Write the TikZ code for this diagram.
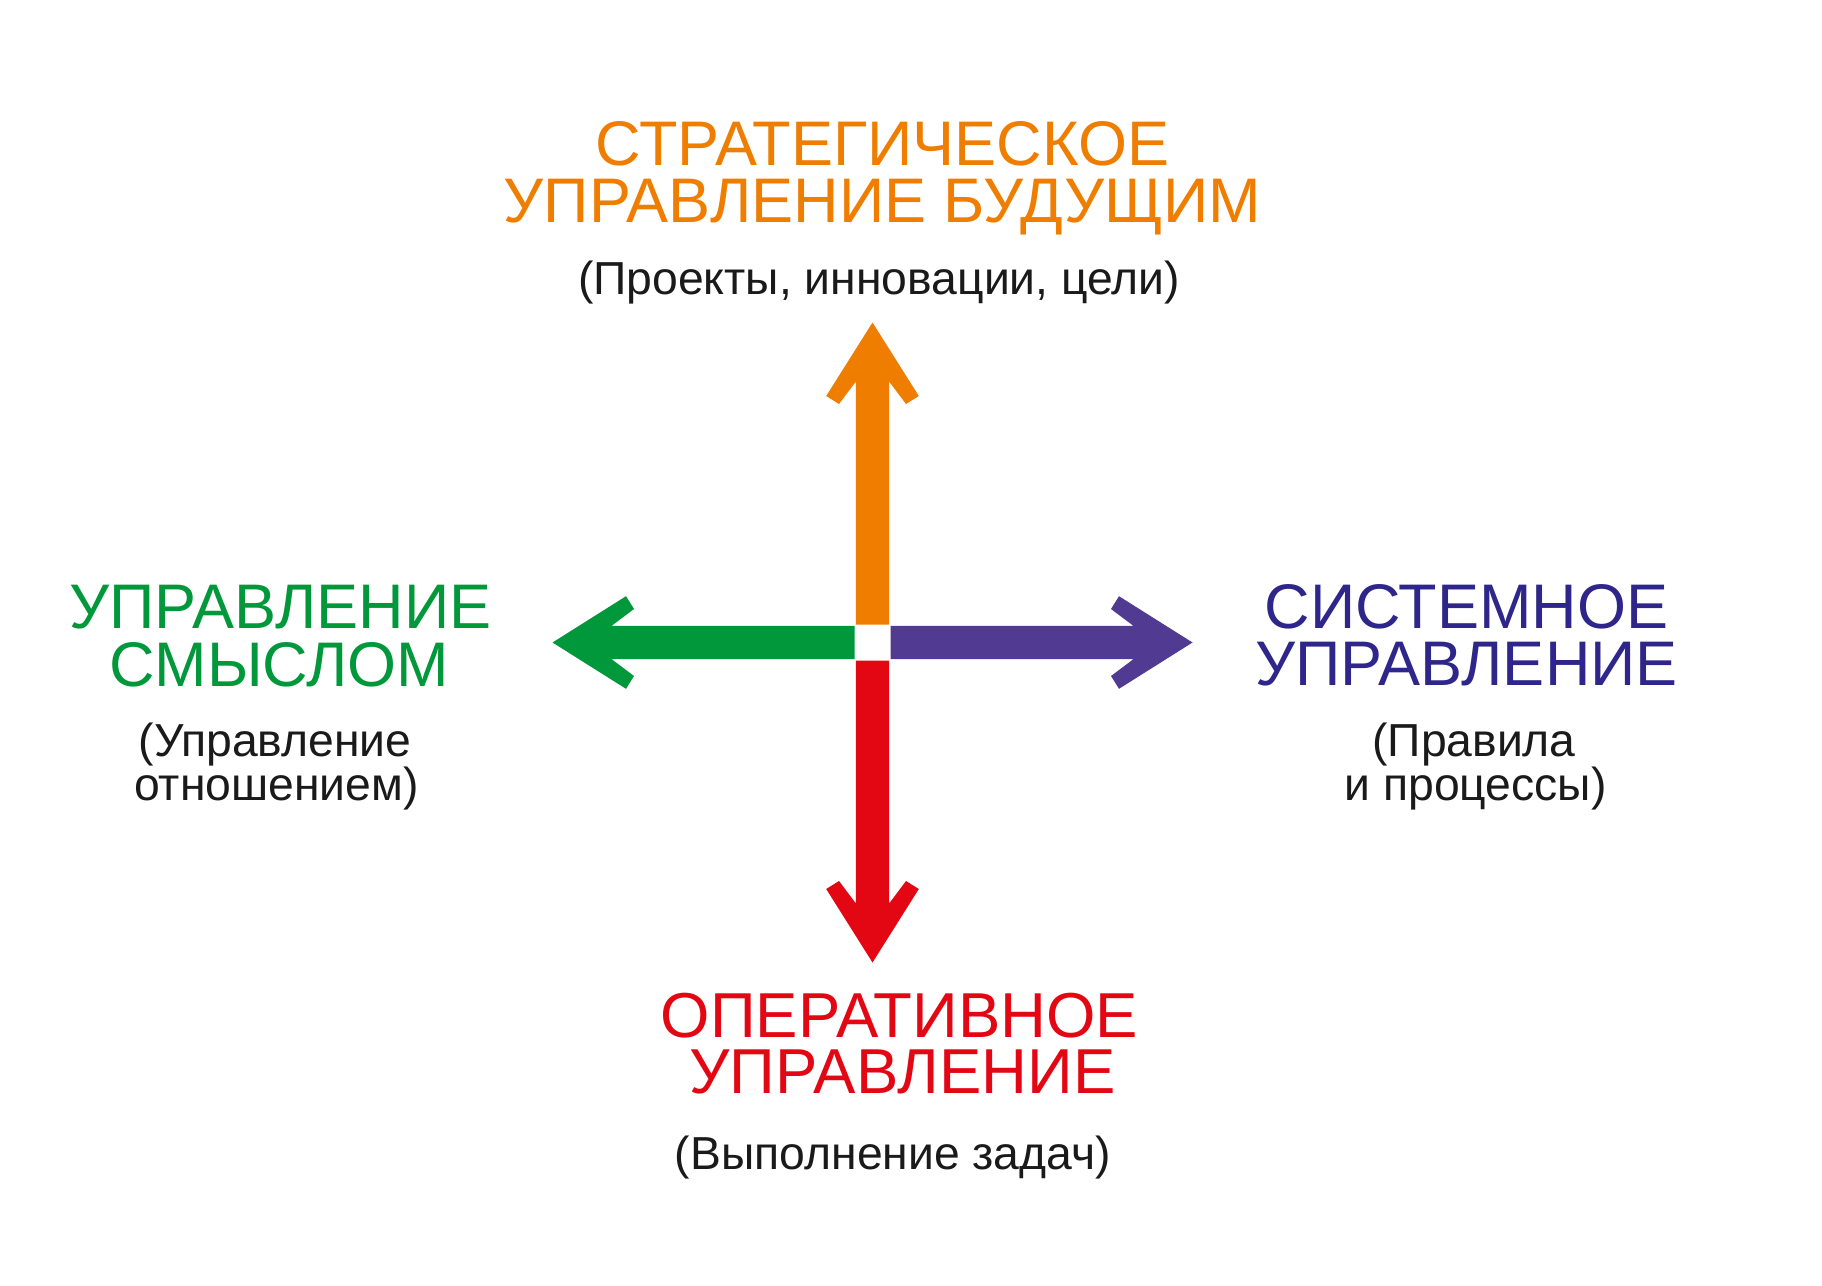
\documentclass[tikz,border=0pt]{standalone}
\usepackage{fontspec}
\setmainfont{Liberation Sans}
\definecolor{corange}{RGB}{238,125,0}
\definecolor{cgreen}{RGB}{0,152,58}
\definecolor{cpurple}{RGB}{81,58,145}
\definecolor{cpurpletext}{RGB}{46,38,138}
\definecolor{cred}{RGB}{227,6,19}
\definecolor{ctext}{RGB}{26,26,26}
\newcommand\mybigarrow[2]{%
  \fill[#1, shift={(c)}, rotate=#2]
    (18,-16.6) -- (261,-16.6) -- (238.5,-33.5) -- (246.5,-46.3) -- (320,0)
    -- (246.5,46.3) -- (238.5,33.5) -- (261,16.6) -- (18,16.6) -- cycle;}
\begin{document}
\begin{tikzpicture}[x=1pt,y=-1pt,
  lbl/.style={anchor=base, inner sep=0pt, outer sep=0pt},
  bigT/.style={lbl, font=\fontsize{63}{70}\selectfont, text height=0.72em, text depth=0.08em},
  subT/.style={lbl, text=ctext, font=\fontsize{46.3}{52}\selectfont, text height=0.72em, text depth=0.2em}]
\fill[white] (0,0) rectangle (1822,1285);
\useasboundingbox (0,0) rectangle (1822,1285);
\coordinate (c) at (872.5,642.5);
% arrows
\mybigarrow{corange}{90}
\mybigarrow{cgreen}{180}
\mybigarrow{cpurple}{0}
\mybigarrow{cred}{270}
% top
\node[bigT, text=corange] (st1) at (882.5,165) {СТРАТЕГИЧЕСКОЕ};
\node[bigT, text=corange] (st2) at (882.5,222) {УПРАВЛЕНИЕ БУДУЩИМ};
\node[subT] (sts) at (879,294) {(Проекты, инновации, цели)};
% left
\node[bigT, text=cgreen] (gt1) at (280.5,628) {УПРАВЛЕНИЕ};
\node[bigT, text=cgreen] (gt2) at (279.5,686) {СМЫСЛОМ};
\node[subT] (gs1) at (275,756) {(Управление};
\node[subT] (gs2) at (276.5,800) {отношением)};
% right
\node[bigT, text=cpurpletext] (pt1) at (1466.5,628) {СИСТЕМНОЕ};
\node[bigT, text=cpurpletext] (pt2) at (1466.5,685.5) {УПРАВЛЕНИЕ};
\node[subT] (ps1) at (1474,756) {(Правила};
\node[subT] (ps2) at (1475.5,800) {и процессы)};
% bottom
\node[bigT, text=cred, font=\fontsize{63.5}{70}\selectfont] (rt1) at (899.5,1037) {ОПЕРАТИВНОЕ};
\node[bigT, text=cred, font=\fontsize{63.5}{70}\selectfont] (rt2) at (902.5,1093) {УПРАВЛЕНИЕ};
\node[subT] (rs) at (893,1169.5) {(Выполнение задач)};
\end{tikzpicture}
\end{document}
